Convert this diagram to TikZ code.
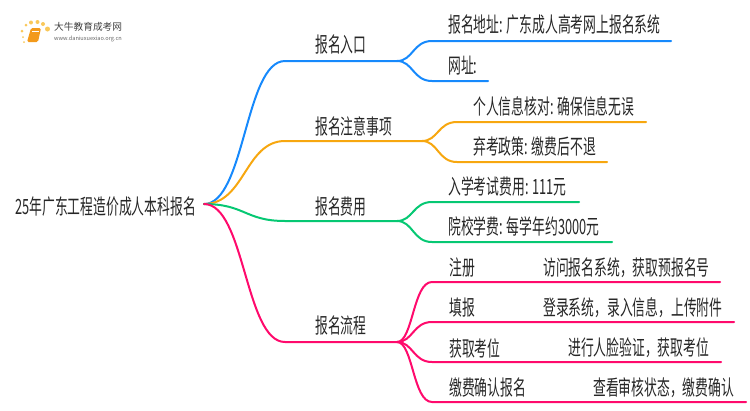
\documentclass[tikz,border=0pt]{standalone}
\usepackage{fontspec}
\setmainfont[FakeStretch=0.61]{Noto Sans CJK SC}
\newfontfamily\logofont{Noto Sans CJK SC}
\definecolor{mapblue}{HTML}{1689FC}
\definecolor{maporange}{HTML}{F7A70F}
\definecolor{mapgreen}{HTML}{06C873}
\definecolor{mappink}{HTML}{FF0A6C}
\definecolor{bookorange}{HTML}{F39A1B}
\definecolor{dotyellow}{HTML}{F9C85A}
\tikzset{
  maptext/.style={anchor=west,inner sep=0pt,text=black!85,font=\fontsize{21}{21}\selectfont},
  maplink/.style={line width=2pt,line cap=round},
  dot/.style={circle,fill=dotyellow,inner sep=0pt,minimum size=#1}
}
\begin{document}
\begin{tikzpicture}[x=1pt,y=-1pt]
  \useasboundingbox (0,0) rectangle (750,410);
  % logo
  \node[dot=2pt] (d1) at (23,37) {};
  \node[dot=3pt] (d2) at (22,31) {};
  \node[dot=3pt] (d3) at (26,25) {};
  \node[dot=4pt] (d4) at (31,22.5) {};
  \node[dot=4pt] (d5) at (37.5,22) {};
  \node[dot=4pt] (d6) at (43,24) {};
  \node[dot=5pt] (d7) at (47.5,29) {};
  \node[dot=2pt] (d8) at (24,42) {};
  \fill[bookorange,rounded corners=1.5pt] (31,28) -- (41,28) -- (38,42) -- (27,42) -- cycle;
  \draw[white,line width=.6pt] (32,31) -- (39,31);
  \node[anchor=west,inner sep=0pt,text=black!75,font=\logofont\fontsize{9.7}{10}\selectfont] (logoname) at (54,27) {大牛教育成考网};
  \node[anchor=west,inner sep=0pt,text=black!60,font=\logofont\fontsize{5.6}{6}\selectfont] (logourl) at (54,39) {www.daniuxuexiao.org.cn};
  % root and branches
  \coordinate (root) at (204,204);
  \node[maptext] (title) at (15,207) {25年广东工程造价成人本科报名};
  \coordinate (entry) at (397,61);
  \coordinate (notice) at (422,141);
  \coordinate (fee) at (397,221);
  \coordinate (flow) at (397,342);
  \node[maptext] (entrytext) at (315,45) {报名入口};
  \node[maptext] (noticetext) at (315,126) {报名注意事项};
  \node[maptext] (feetext) at (315,207) {报名费用};
  \node[maptext] (flowtext) at (315,326) {报名流程};
  % leaves
  \node[maptext] (addr) at (448,25) {报名地址: 广东成人高考网上报名系统};
  \node[maptext] (site) at (448,66) {网址:};
  \node[maptext] (check) at (473,106) {个人信息核对: 确保信息无误};
  \node[maptext] (quit) at (473,146) {弃考政策: 缴费后不退};
  \node[maptext] (exam) at (448,186) {入学考试费用: 111元};
  \node[maptext] (tuition) at (448,226) {院校学费: 每学年约3000元};
  \node[maptext] (reg) at (449,268) {注册};
  \node[maptext] (regnote) at (543,268) {访问报名系统，获取预报名号};
  \node[maptext] (fill) at (449,308) {填报};
  \node[maptext] (fillnote) at (543,308) {登录系统，录入信息，上传附件};
  \node[maptext] (seat) at (449,348) {获取考位};
  \node[maptext] (seatnote) at (568,348) {进行人脸验证，获取考位};
  \node[maptext] (pay) at (449,388) {缴费确认报名};
  \node[maptext] (paynote) at (593,388) {查看审核状态，缴费确认};
  \coordinate (addrend) at (671,41);
  \coordinate (siteend) at (488,81);
  \coordinate (checkend) at (646,122);
  \coordinate (quitend) at (607,162);
  \coordinate (examend) at (579,202);
  \coordinate (tuitionend) at (612,242);
  \coordinate (regend) at (720,282);
  \coordinate (fillend) at (734,322);
  \coordinate (seatend) at (721,362);
  \coordinate (payend) at (746,402);
  % links
  \draw[maplink,mapblue] (root) .. controls (245,204) and (245,61) .. (285,61) -- (entry);
  \draw[maplink,mapblue] (entry) .. controls (413,61) and (413,41) .. (432,41) -- (addrend);
  \draw[maplink,mapblue] (entry) .. controls (413,61) and (413,81) .. (432,81) -- (siteend);
  \draw[maplink,maporange] (root) .. controls (245,204) and (245,141) .. (285,141) -- (notice);
  \draw[maplink,maporange] (notice) .. controls (438,141) and (438,122) .. (457,122) -- (checkend);
  \draw[maplink,maporange] (notice) .. controls (438,141) and (438,162) .. (457,162) -- (quitend);
  \draw[maplink,mapgreen] (root) .. controls (245,204) and (245,221) .. (285,221) -- (fee);
  \draw[maplink,mapgreen] (fee) .. controls (413,221) and (413,202) .. (432,202) -- (examend);
  \draw[maplink,mapgreen] (fee) .. controls (413,221) and (413,242) .. (432,242) -- (tuitionend);
  \draw[maplink,mappink] (root) .. controls (245,204) and (245,342) .. (285,342) -- (flow);
  \draw[maplink,mappink] (flow) .. controls (413,342) and (413,282) .. (432,282) -- (regend);
  \draw[maplink,mappink] (flow) .. controls (413,342) and (413,322) .. (432,322) -- (fillend);
  \draw[maplink,mappink] (flow) .. controls (413,342) and (413,362) .. (432,362) -- (seatend);
  \draw[maplink,mappink] (flow) .. controls (413,342) and (413,402) .. (432,402) -- (payend);
\end{tikzpicture}
\end{document}
